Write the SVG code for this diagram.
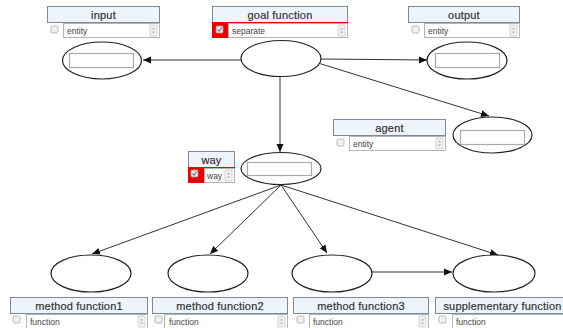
<svg xmlns="http://www.w3.org/2000/svg" width="563" height="328" viewBox="0 0 563 328">
<defs>
<style>
.hd{fill:#eef4fc;stroke:#7d8b99;stroke-width:1}
.ht{font-family:"Liberation Sans",Arial,sans-serif;font-size:11px;fill:#333;stroke:#333;stroke-width:0.2;text-anchor:middle;letter-spacing:0.2px}
.sel{fill:#fff;stroke:#b4b4b4;stroke-width:1}
.st{font-family:"Liberation Sans",Arial,sans-serif;font-size:8.5px;fill:#444}
.sp{fill:#f2f2f2;stroke:#c8c8c8;stroke-width:0.8}
.spa{fill:#bbb}
.cb{fill:#f0f0f0;stroke:#a8a8a8;stroke-width:0.8}
.red{fill:#ee0000}
.el{fill:#fff;stroke:#222;stroke-width:1.2}
.in{fill:#fff;stroke:#aaa;stroke-width:1.2}
.cn{stroke:#333;stroke-width:1;fill:none}
</style>
<marker id="ah" markerUnits="userSpaceOnUse" markerWidth="10" markerHeight="8" refX="8" refY="4" orient="auto">
<path d="M0,0.5 L8,4 L0,7.5 Z" fill="#111"/>
</marker>
<g id="spin"><rect class="sp" x="0" y="0" width="7" height="11" rx="1"/><path class="spa" d="M1.8,4.5 L3.5,2.3 L5.2,4.5 Z M1.8,6.5 L3.5,8.7 L5.2,6.5 Z"/></g>
</defs>
<rect width="563" height="328" fill="#fff"/>

<g id="connectors">
<line class="cn" x1="241" y1="60" x2="143" y2="60" marker-end="url(#ah)"/>
<line class="cn" x1="321" y1="59" x2="427" y2="60" marker-end="url(#ah)"/>
<line class="cn" x1="318" y1="63" x2="489" y2="116" marker-end="url(#ah)"/>
<line class="cn" x1="280" y1="77" x2="280" y2="152" marker-end="url(#ah)"/>
<line class="cn" x1="281" y1="185" x2="92" y2="254" marker-end="url(#ah)"/>
<line class="cn" x1="281" y1="185" x2="210" y2="254" marker-end="url(#ah)"/>
<line class="cn" x1="281" y1="185" x2="327" y2="253" marker-end="url(#ah)"/>
<line class="cn" x1="281" y1="185" x2="498" y2="255" marker-end="url(#ah)"/>
<line class="cn" x1="372" y1="272" x2="452" y2="272" marker-end="url(#ah)"/>
</g>

<g id="goal">
<rect class="hd" x="212.5" y="6.5" width="135" height="16"/>
<text class="ht" x="280" y="18.5">goal function</text>
<rect class="red" x="212" y="22" width="16" height="16"/>
<rect class="red" x="212" y="22" width="136" height="1.5"/>
<rect x="216" y="26" width="7" height="7" rx="1" fill="#e8e8e8" stroke="#999" stroke-width="0.8"/>
<path d="M217.5,29.5 L219,31.3 L221.7,27.4" stroke="#555" stroke-width="1" fill="none"/>
<rect class="sel" x="228.5" y="23.5" width="119" height="14"/>
<text class="st" x="232" y="33.5">separate</text>
<use href="#spin" x="338" y="25"/>
<ellipse class="el" cx="281" cy="58.5" rx="40" ry="18"/>
</g>

<g id="input">
<rect class="hd" x="47.5" y="6.5" width="112" height="16"/>
<text class="ht" x="103.5" y="18.5">input</text>
<rect class="cb" x="51" y="26" width="7" height="7" rx="1.5"/>
<rect class="sel" x="63.5" y="23.5" width="96" height="14"/>
<text class="st" x="67" y="33.5">entity</text>
<use href="#spin" x="150" y="25"/>
<ellipse class="el" cx="102" cy="60.5" rx="39.5" ry="18.5"/>
<rect class="in" x="69.5" y="53.5" width="64" height="14"/>
</g>

<g id="output">
<rect class="hd" x="408.5" y="6.5" width="111" height="16"/>
<text class="ht" x="464" y="18.5">output</text>
<rect class="cb" x="412" y="26" width="7" height="7" rx="1.5"/>
<rect class="sel" x="424.5" y="23.5" width="95" height="14"/>
<text class="st" x="428" y="33.5">entity</text>
<use href="#spin" x="510" y="25"/>
<ellipse class="el" cx="467" cy="60.5" rx="40" ry="18.5"/>
<rect class="in" x="435.5" y="53.5" width="64" height="14"/>
</g>

<g id="agent">
<rect class="hd" x="333.5" y="119.5" width="112" height="16"/>
<text class="ht" x="389.5" y="131.5">agent</text>
<rect class="cb" x="337" y="139" width="7" height="7" rx="1.5"/>
<rect class="sel" x="349.5" y="136.5" width="96" height="14"/>
<text class="st" x="353" y="146.5">entity</text>
<use href="#spin" x="436" y="138"/>
<ellipse class="el" cx="492.5" cy="135" rx="39.5" ry="18"/>
<rect class="in" x="460.5" y="130.5" width="64" height="14"/>
</g>

<g id="way">
<rect class="hd" x="188.5" y="151.5" width="46" height="16"/>
<text class="ht" x="211.5" y="163.5">way</text>
<rect class="red" x="188" y="167" width="16" height="16"/>
<rect class="red" x="188" y="167" width="47" height="1.5"/>
<rect x="191" y="170" width="7" height="7" rx="1" fill="#e8e8e8" stroke="#999" stroke-width="0.8"/>
<path d="M192.5,173.5 L194,175.3 L196.7,171.4" stroke="#555" stroke-width="1" fill="none"/>
<rect class="sel" x="204.5" y="168.5" width="30" height="14"/>
<text class="st" x="207" y="178.5">way</text>
<use href="#spin" x="225" y="170"/>
<ellipse class="el" cx="281" cy="168.5" rx="40" ry="16"/>
<rect class="in" x="247.5" y="162.5" width="64" height="13"/>
</g>

<g id="method1">
<ellipse class="el" cx="91" cy="273.5" rx="40" ry="18.5"/>
<rect class="hd" x="10.5" y="297.5" width="137" height="16"/>
<text class="ht" x="79" y="309.5">method function1</text>
<rect class="cb" x="13" y="316" width="7" height="7" rx="1.5"/>
<rect class="sel" x="26.5" y="314.5" width="121" height="14"/>
<text class="st" x="30" y="324.5">function</text>
<use href="#spin" x="138" y="316"/>
</g>

<g id="method2">
<ellipse class="el" cx="208" cy="273.5" rx="40" ry="18.5"/>
<rect class="hd" x="152.5" y="297.5" width="135" height="16"/>
<text class="ht" x="220" y="309.5">method function2</text>
<rect class="cb" x="155" y="316" width="7" height="7" rx="1.5"/>
<rect class="sel" x="164.5" y="314.5" width="123" height="14"/>
<text class="st" x="169" y="324.5">function</text>
<use href="#spin" x="278" y="316"/>
</g>

<g id="method3">
<ellipse class="el" cx="332" cy="273.5" rx="40" ry="18.5"/>
<rect class="hd" x="293.5" y="297.5" width="135" height="16"/>
<text class="ht" x="361" y="309.5">method function3</text>
<rect class="cb" x="297" y="316" width="7" height="7" rx="1.5"/>
<rect class="sel" x="309.5" y="314.5" width="119" height="14"/>
<text class="st" x="313" y="324.5">function</text>
<use href="#spin" x="419" y="316"/>
</g>

<g id="supplementary">
<ellipse class="el" cx="494" cy="273.5" rx="41" ry="18.5"/>
<rect class="hd" x="435.5" y="297.5" width="135" height="16"/>
<text class="ht" x="502.5" y="309.5">supplementary function</text>
<rect class="cb" x="439" y="316" width="7" height="7" rx="1.5"/>
<rect class="sel" x="452.5" y="314.5" width="118" height="14"/>
<text class="st" x="456" y="324.5">function</text>
</g>
</svg>
